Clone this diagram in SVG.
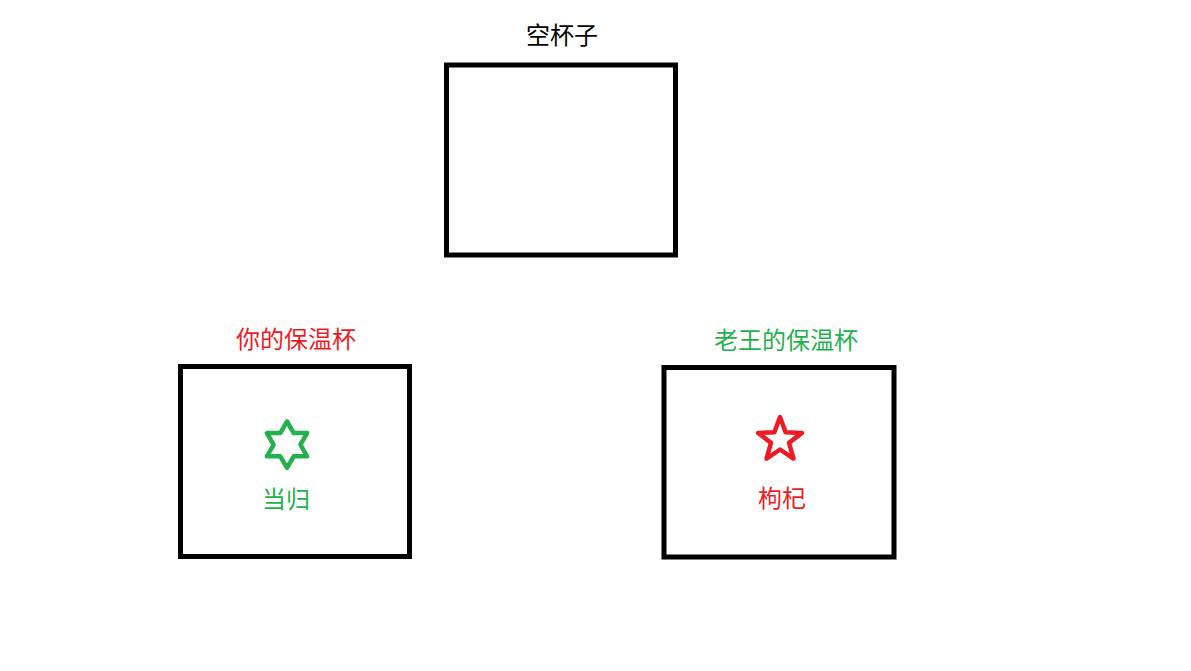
<svg xmlns="http://www.w3.org/2000/svg" width="1191" height="671" viewBox="0 0 1191 671">
<style>
.box{fill:#fff;stroke:#000;stroke-width:5}
.t{font-family:"Noto Sans CJK SC","Microsoft YaHei",sans-serif;font-size:24px;text-anchor:middle}
.red{fill:#ed1c24}
.green{fill:#22b14c}
.star{fill:none;stroke-width:4.5;stroke-linejoin:round}
</style>
<rect width="1191" height="671" fill="#fff"/>
<g id="empty-cup">
<text class="t" x="562" y="44" fill="#000">空杯子</text>
<rect class="box" x="446.5" y="65" width="229" height="190"/>
</g>
<g id="your-cup">
<text class="t red" x="296" y="348">你的保温杯</text>
<rect class="box" x="180.5" y="366.5" width="229" height="190"/>
<polygon class="star" stroke="#22b14c" points="287,421.5 293.7,433.1 307.1,433.1 300.4,444.7 307.1,456.3 293.7,456.3 287,467.9 280.3,456.3 266.9,456.3 273.6,444.7 266.9,433.1 280.3,433.1"/>
<text class="t green" x="286" y="508">当归</text>
</g>
<g id="wang-cup">
<text class="t green" x="786" y="349">老王的保温杯</text>
<rect class="box" x="664" y="367.5" width="230" height="189.5"/>
<polygon class="star" stroke="#ed1c24" points="780,417 785.6,432.3 801.9,432.9 789,442.9 793.5,458.6 780,449.5 766.5,458.6 771,442.9 758.1,432.9 774.4,432.3"/>
<text class="t red" x="782" y="507">枸杞</text>
</g>
</svg>
